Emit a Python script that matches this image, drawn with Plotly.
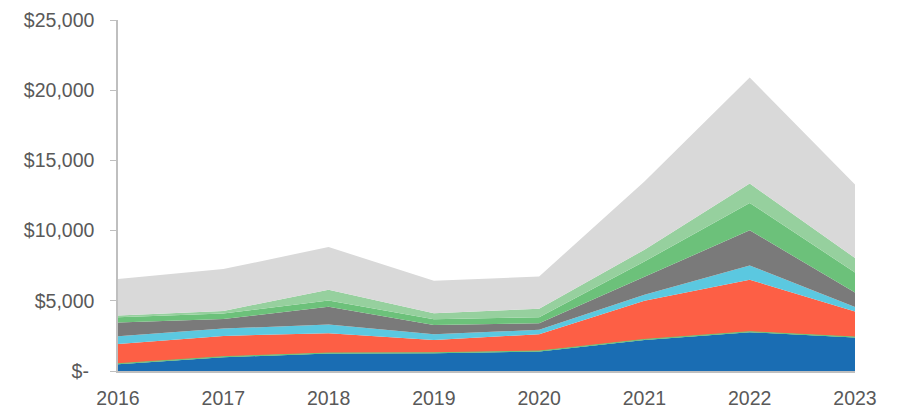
import plotly.graph_objects as go

years = [2016, 2017, 2018, 2019, 2020, 2021, 2022, 2023]

# layer values (stacked bottom to top)
blue       = [480, 980, 1240, 1260, 1380, 2210, 2760, 2380]
thin_green = [40, 40, 40, 40, 40, 40, 40, 40]
red        = [1410, 1480, 1410, 910, 1200, 2750, 3700, 1810]
cyan       = [550, 520, 620, 410, 310, 430, 1020, 320]
dark_gray  = [970, 690, 1260, 660, 470, 1300, 2500, 1040]
green      = [380, 380, 450, 410, 430, 1070, 1950, 1430]
lt_green   = [120, 190, 760, 430, 600, 840, 1380, 1030]
lt_gray    = [2600, 2980, 3050, 2310, 2300, 4860, 7550, 5230]

series = [
    ("Series 1", blue, "#1a6db3"),
    ("Series 2", thin_green, "#6cc17a"),
    ("Series 3", red, "#fd5f45"),
    ("Series 4", cyan, "#5bc8e0"),
    ("Series 5", dark_gray, "#7a7a7a"),
    ("Series 6", green, "#6cc17a"),
    ("Series 7", lt_green, "#96d09e"),
    ("Series 8", lt_gray, "#d9d9d9"),
]

ytick_vals = [0, 5000, 10000, 15000, 20000, 25000]
ytick_text = ["$-\u00a0", "$5,000", "$10,000", "$15,000", "$20,000", "$25,000"]

fig = go.Figure()
for name, vals, col in series:
    fig.add_trace(go.Scatter(
        x=years, y=vals, name=name, mode="lines", stackgroup="one",
        line=dict(width=1 if name == "Series 2" else 0, color=col),
        fillcolor=col, hoverinfo="x+y",
    ))

fig.update_layout(
    width=890, height=400,
    margin=dict(l=110, r=43, t=12, b=37),
    paper_bgcolor="white", plot_bgcolor="white",
    showlegend=False,
    font=dict(family="Liberation Sans, Arial, sans-serif", color="#595959", size=19.5),
)
fig.update_xaxes(
    range=[2016, 2023], tickvals=years, ticktext=[str(y) for y in years],
    showgrid=False, zeroline=False, showline=True, linecolor="#bfbfbf", linewidth=1.5,
    ticks="", ticklen=0, tickfont=dict(size=19.5), ticklabelstandoff=9,
    automargin=False,
)
fig.update_yaxes(
    range=[0, 25000], tickvals=ytick_vals, ticktext=ytick_text,
    showgrid=False, zeroline=False, showline=True, linecolor="#bfbfbf", linewidth=1.5,
    ticks="outside", ticklen=6, tickcolor="#bfbfbf", tickfont=dict(size=19.5),
    ticklabelstandoff=12, automargin=False,
)

fig.write_html("out.html")
